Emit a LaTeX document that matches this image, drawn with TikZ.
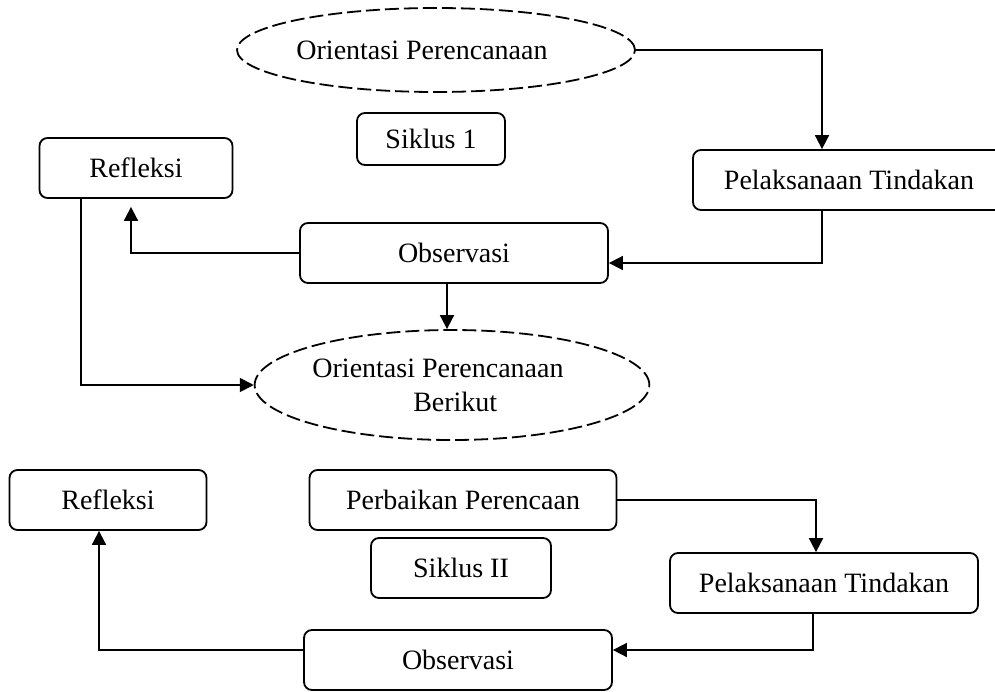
\documentclass[tikz,border=0pt]{standalone}
\usepackage{fontspec}
\setmainfont{Liberation Serif}
\usetikzlibrary{shapes.geometric,arrows.meta}
\begin{document}
\begin{tikzpicture}[x=0.5pt, y=-0.5pt, line width=0.9pt, >={Triangle[width=7pt,length=7pt]},
box node/.style={draw,rounded corners=4pt,inner sep=0pt,font=\fontsize{14}{17}\selectfont},
oval node/.style={ellipse,draw,dash pattern=on 7pt off 2.5pt,inner sep=0pt,font=\fontsize{14}{17}\selectfont}]%
\useasboundingbox (0,0) rectangle (995,691);
% siklus 1
\node[oval node,minimum width=199pt,minimum height=42pt] (orient1) at (436,50) {Orientasi Perencanaan\hspace*{1em}};
\node[box node,minimum width=74pt,minimum height=26pt] (siklus1) at (431,139) {Siklus 1};
\node[box node,minimum width=96.5pt,minimum height=30pt] (refl1) at (136,168) {Refleksi};
\node[box node,minimum width=156pt,minimum height=30pt] (pelak1) at (849,180) {Pelaksanaan Tindakan};
\node[box node,minimum width=154pt,minimum height=30pt] (obs1) at (454,253) {Observasi};
\node[oval node,minimum width=195.5pt,minimum height=55pt,align=left] (orient2) at (452,385) {Orientasi Perencanaan\hspace*{1em}\\\hspace*{3.6em}Berikut};
% siklus 2
\node[box node,minimum width=98.5pt,minimum height=30pt] (refl2) at (108,500) {Refleksi};
\node[box node,minimum width=153.5pt,minimum height=30pt] (perb) at (463,500) {Perbaikan Perencaan};
\node[box node,minimum width=90pt,minimum height=30pt] (siklus2) at (461,568) {Siklus II};
\node[box node,minimum width=154pt,minimum height=30pt] (pelak2) at (824,583) {Pelaksanaan Tindakan};
\node[box node,minimum width=154pt,minimum height=30pt] (obs2) at (458,660) {Observasi};
% arrows
\draw[->] (orient1.east) -| ([xshift=-13.5pt]pelak1.north);
\draw[->] ([xshift=-13.5pt]pelak1.south) |- ([yshift=-5pt]obs1.east);
\draw[->,shorten >=4pt] (obs1.west) -| ([xshift=-2.5pt]refl1.south);
\draw[->] ([xshift=-3.5pt]obs1.south) -- ([xshift=-3.5pt]obs1.south |- orient2.north);
\draw[->] ([xshift=-27.5pt]refl1.south) |- (orient2.west);
\draw[->] (perb.east) -| ([xshift=-4pt]pelak2.north);
\draw[->] ([xshift=-5.5pt]pelak2.south) |- ([yshift=5pt]obs2.east);
\draw[->] ([yshift=5pt]obs2.west) -| ([xshift=-4.5pt]refl2.south);
\end{tikzpicture}
\end{document}
